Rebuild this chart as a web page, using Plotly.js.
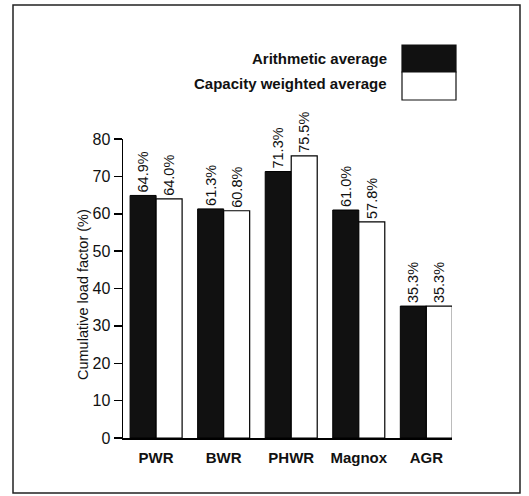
<!DOCTYPE html>
<html>
<head>
<meta charset="utf-8">
<script src="https://cdn.plot.ly/plotly-3.0.1.min.js"></script>
<style>
html,body{margin:0;padding:0;background:#fff;}
#chart{width:529px;height:496px;}
</style>
</head>
<body>
<div id="chart"></div>
<script>
const categories = ["PWR", "BWR", "PHWR", "Magnox", "AGR"];
const arithmeticAvg = [64.9, 61.3, 71.3, 61.0, 35.3];
const capacityWeightedAvg = [64.0, 60.8, 75.5, 57.8, 35.3];
const seriesNames = ["Arithmetic average", "Capacity weighted average"];
const yTicks = [0, 10, 20, 30, 40, 50, 60, 70, 80];
const yTitle = "Cumulative load factor (%)";

const font = "'Liberation Sans', Arial, sans-serif";
const fmt = v => v.toFixed(1) + "%";
const xs = categories.map((c, i) => i);

const traces = [
  {
    type: "bar", name: seriesNames[0], x: xs, y: arithmeticAvg,
    marker: {color: "#111", line: {color: "#000", width: 1}},
    text: arithmeticAvg.map(fmt), textposition: "outside", textangle: -90,
    constraintext: "none",
    textfont: {family: font, size: 14.5, color: "#111"}, cliponaxis: false
  },
  {
    type: "bar", name: seriesNames[1], x: xs, y: capacityWeightedAvg,
    marker: {color: "#fff", line: {color: "#000", width: 1.2}},
    text: capacityWeightedAvg.map(fmt), textposition: "outside", textangle: -90,
    constraintext: "none",
    textfont: {family: font, size: 14.5, color: "#111"}, cliponaxis: false
  }
];

const layout = {
  width: 529, height: 496,
  margin: {l: 123, r: 77, t: 139, b: 58},
  paper_bgcolor: "#fff", plot_bgcolor: "#fff",
  showlegend: false,
  barmode: "group", bargap: 0.23, bargroupgap: 0,
  xaxis: {
    range: [-0.49, 4.38], tickvals: xs, ticktext: categories,
    showline: true, linecolor: "#000", linewidth: 1.5, ticks: "",
    showgrid: false, zeroline: false, fixedrange: true,
    ticklabelstandoff: 5,
    tickfont: {family: font, size: 15, color: "#111", weight: "bold"}
  },
  yaxis: {
    range: [0, 80], tickvals: yTicks,
    showline: true, linecolor: "#000", linewidth: 1.5,
    ticks: "outside", ticklen: 8, tickwidth: 1.5, tickcolor: "#000",
    showgrid: false, zeroline: false,
    tickfont: {family: font, size: 16, color: "#111"}
  },
  shapes: [
    {type: "rect", xref: "paper", yref: "paper", x0: -110/329, x1: 397/329, y0: -55/299, y1: 433/299,
     line: {color: "#222", width: 1.5}, fillcolor: "rgba(0,0,0,0)"},
    {type: "rect", xref: "paper", yref: "paper", x0: 279/329, x1: 333/329, y0: 366/299, y1: 393/299,
     line: {color: "#111", width: 1.2}, fillcolor: "#111"},
    {type: "rect", xref: "paper", yref: "paper", x0: 279/329, x1: 333/329, y0: 338/299, y1: 366/299,
     line: {color: "#111", width: 1.2}, fillcolor: "#fff"}
  ],
  annotations: [
    {xref: "paper", yref: "paper", x: 266/329, y: 379/299, xanchor: "right", yanchor: "middle",
     text: "<b>" + seriesNames[0] + "</b>", showarrow: false,
     font: {family: font, size: 15, color: "#111"}},
    {xref: "paper", yref: "paper", x: 266/329, y: 354/299, xanchor: "right", yanchor: "middle",
     text: "<b>" + seriesNames[1] + "</b>", showarrow: false,
     font: {family: font, size: 15, color: "#111"}},
    {xref: "paper", yref: "paper", x: -40/329, y: 143/299, xanchor: "center", yanchor: "middle",
     text: yTitle, textangle: -90, showarrow: false,
     font: {family: font, size: 14.5, color: "#111"}}
  ]
};

Plotly.newPlot("chart", traces, layout, {displayModeBar: false, staticPlot: true});
</script>
</body>
</html>
